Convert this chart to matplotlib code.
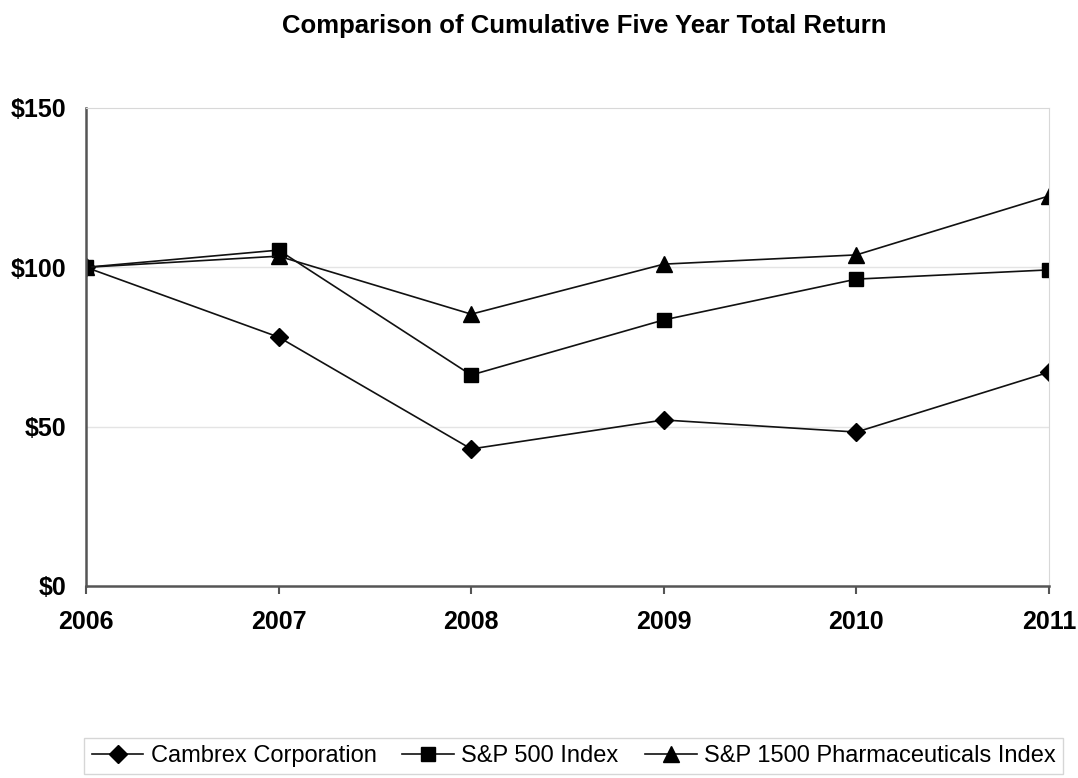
import numpy as np
import matplotlib
matplotlib.use("Agg")
import matplotlib.pyplot as plt

# Values (indexed to $100 in 2006)
years = [2006, 2007, 2008, 2009, 2010, 2011]
cambrex = [100, 78.1, 43.0, 52.1, 48.3, 67.1]
sp500 = [100, 105.4, 66.2, 83.5, 96.3, 99.2]
pharma = [100, 103.5, 85.3, 101.0, 103.9, 122.4]

y_ticks = [0, 50, 100, 150]
y_labels = ["$0", "$50", "$100", "$150"]

plt.rcParams['font.family'] = ['Liberation Sans', 'DejaVu Sans']

fig = plt.figure(figsize=(10.78, 7.78), dpi=100)
ax = fig.add_axes([0.0798, 0.2468, 0.8933, 0.6144])

line_kw = dict(color='#111111', linewidth=1.2, markeredgecolor='black', markerfacecolor='black')
ax.plot(years, cambrex, marker='D', markersize=9, label='Cambrex Corporation', **line_kw)
ax.plot(years, sp500, marker='s', markersize=10, label='S&P 500 Index', **line_kw)
ax.plot(years, pharma, marker='^', markersize=11, label='S&P 1500 Pharmaceuticals Index', **line_kw)

ax.set_xlim(2006, 2011)
ax.set_ylim(0, 150)
ax.set_xticks(years)
ax.set_xticklabels([str(y) for y in years], fontsize=18, fontweight='bold')
ax.set_yticks(y_ticks)
ax.set_yticklabels(y_labels, fontsize=18, fontweight='bold')

# light gridlines and border, darker left/bottom axes
for v in [50, 100]:
    ax.axhline(v, color='#e4e4e4', linewidth=1, zorder=0)
ax.spines['top'].set_color('#d8d8d8')
ax.spines['right'].set_color('#d8d8d8')
ax.spines['left'].set_color('#555555')
ax.spines['bottom'].set_color('#555555')
ax.spines['left'].set_linewidth(1.8)
ax.spines['bottom'].set_linewidth(1.8)
ax.tick_params(axis='y', length=0, pad=14)
ax.tick_params(axis='x', direction='out', length=6, width=1.5, color='#555555', pad=11)

fig.suptitle("Comparison of Cumulative Five Year Total Return", x=0.542, y=0.982,
             fontsize=18.5, fontweight='bold')

leg = fig.legend(loc='upper center', bbox_to_anchor=(0.532, 0.0514), ncol=3, fontsize=17,
                 frameon=True, fancybox=False, edgecolor='#cccccc', handlelength=2.2,
                 handletextpad=0.3, columnspacing=1.1, borderpad=0.3, borderaxespad=0)
leg.get_frame().set_linewidth(1)

fig.savefig("out.png", dpi=100)
